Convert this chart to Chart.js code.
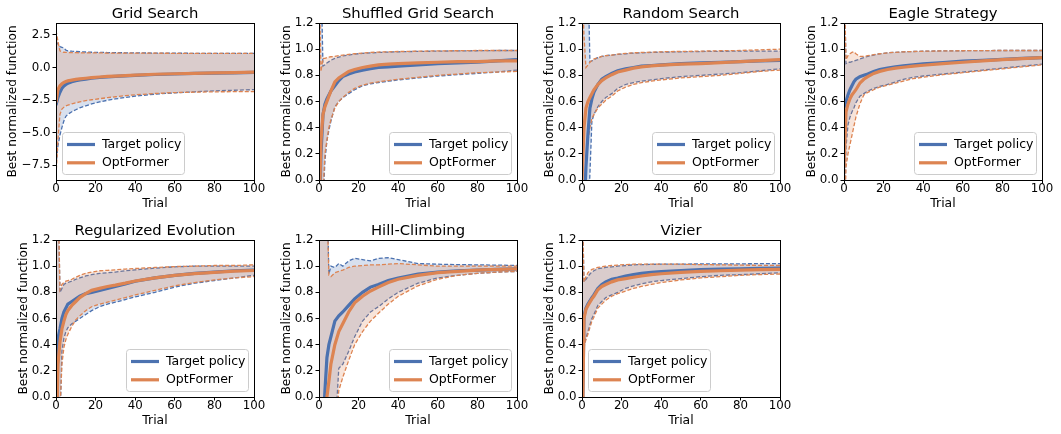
<!DOCTYPE html>
<html>
<head>
<meta charset="utf-8">
<script src="https://cdn.jsdelivr.net/npm/chart.js@4.4.1/dist/chart.umd.min.js"></script>
<style>
  body { margin: 0; background: #fff; width: 1061px; height: 434px; position: relative; overflow: hidden; }
  canvas { position: absolute; }
</style>
</head>
<body>
<script>
// Trial indices shared by every panel
const trials = [0, 1, 2, 3, 4, 5, 6, 8, 10, 12, 15, 18, 22, 26, 30, 35, 40, 50, 60, 70, 80, 90, 100];
const xTicks = [0, 20, 40, 60, 80, 100];
const unitTicks = [0, 0.2, 0.4, 0.6, 0.8, 1.0, 1.2];
const gridTicks = [2.5, 0, -2.5, -5, -7.5];
const seriesNames = ["Target policy", "OptFormer"];

// Grid Search
const gsTargetMean  = [-2.9, -2.3, -1.9, -1.6, -1.42, -1.3, -1.22, -1.1, -1.02, -0.96, -0.9, -0.83, -0.77, -0.72, -0.68, -0.64, -0.6, -0.54, -0.5, -0.46, -0.43, -0.41, -0.38];
const gsTargetUpper = [2.0, 1.8, 1.6, 1.55, 1.5, 1.33, 1.28, 1.25, 1.23, 1.21, 1.19, 1.17, 1.16, 1.15, 1.14, 1.13, 1.12, 1.11, 1.1, 1.09, 1.09, 1.08, 1.08];
const gsTargetLower = [-7.5, -6.0, -5.2, -4.6, -4.1, -3.75, -3.6, -3.4, -3.25, -3.1, -2.95, -2.8, -2.65, -2.52, -2.42, -2.3, -2.2, -2.05, -1.95, -1.87, -1.8, -1.75, -1.7];
const gsOptMean     = [-2.7, -1.7, -1.4, -1.25, -1.15, -1.08, -1.03, -0.97, -0.92, -0.88, -0.83, -0.78, -0.73, -0.69, -0.66, -0.62, -0.58, -0.52, -0.48, -0.45, -0.42, -0.39, -0.36];
const gsOptUpper    = [2.85, 2.0, 1.28, 1.2, 1.17, 1.16, 1.15, 1.14, 1.14, 1.13, 1.13, 1.12, 1.12, 1.11, 1.11, 1.1, 1.1, 1.1, 1.09, 1.09, 1.08, 1.08, 1.08];
const gsOptLower    = [-8.3, -5.5, -3.6, -3.2, -3.05, -2.95, -2.9, -2.8, -2.72, -2.65, -2.55, -2.48, -2.4, -2.32, -2.25, -2.17, -2.1, -2.0, -1.93, -1.9, -1.87, -1.86, -1.85];

// Shuffled Grid Search
const sgTargetMean  = [-0.5, 0.2, 0.5, 0.58, 0.62, 0.65, 0.68, 0.72, 0.76, 0.79, 0.81, 0.825, 0.84, 0.85, 0.86, 0.865, 0.87, 0.88, 0.89, 0.895, 0.9, 0.91, 0.92];
const sgTargetUpper = [1.6, 1.6, 0.87, 0.88, 0.895, 0.905, 0.915, 0.93, 0.94, 0.948, 0.955, 0.962, 0.968, 0.972, 0.975, 0.978, 0.98, 0.983, 0.985, 0.987, 0.988, 0.99, 0.99];
const sgTargetLower = [-0.8, -0.6, -0.2, 0.15, 0.3, 0.38, 0.45, 0.56, 0.6, 0.63, 0.66, 0.69, 0.72, 0.735, 0.745, 0.755, 0.765, 0.78, 0.795, 0.805, 0.815, 0.825, 0.84];
const sgOptMean     = [-0.3, 0.3, 0.5, 0.56, 0.6, 0.64, 0.68, 0.75, 0.78, 0.8, 0.83, 0.845, 0.86, 0.87, 0.88, 0.885, 0.89, 0.895, 0.9, 0.905, 0.905, 0.91, 0.91];
const sgOptUpper    = [1.6, 0.83, 0.93, 0.93, 0.935, 0.94, 0.942, 0.945, 0.95, 0.955, 0.96, 0.965, 0.97, 0.975, 0.978, 0.98, 0.982, 0.985, 0.987, 0.988, 0.99, 0.99, 0.99];
const sgOptLower    = [-0.8, -0.5, -0.1, 0.2, 0.3, 0.4, 0.46, 0.55, 0.6, 0.63, 0.67, 0.7, 0.725, 0.74, 0.75, 0.76, 0.77, 0.785, 0.8, 0.81, 0.82, 0.825, 0.83];

// Random Search
const rsTargetMean  = [-0.5, -0.3, 0.1, 0.35, 0.55, 0.62, 0.67, 0.73, 0.77, 0.79, 0.815, 0.835, 0.85, 0.86, 0.87, 0.875, 0.88, 0.89, 0.895, 0.9, 0.905, 0.91, 0.915];
const rsTargetUpper = [1.6, 1.6, 1.6, 1.6, 0.905, 0.91, 0.92, 0.935, 0.945, 0.95, 0.955, 0.96, 0.965, 0.97, 0.972, 0.975, 0.977, 0.98, 0.982, 0.984, 0.985, 0.985, 0.985];
const rsTargetLower = [-0.8, -0.8, -0.6, -0.3, 0.05, 0.45, 0.5, 0.56, 0.6, 0.63, 0.66, 0.7, 0.73, 0.745, 0.755, 0.765, 0.775, 0.79, 0.8, 0.81, 0.82, 0.835, 0.85];
const rsOptMean     = [0.0, 0.4, 0.55, 0.6, 0.63, 0.66, 0.69, 0.73, 0.76, 0.78, 0.805, 0.825, 0.84, 0.855, 0.865, 0.872, 0.878, 0.885, 0.89, 0.897, 0.905, 0.912, 0.92];
const rsOptUpper    = [1.6, 1.1, 0.86, 0.88, 0.9, 0.915, 0.925, 0.935, 0.945, 0.95, 0.955, 0.962, 0.968, 0.972, 0.975, 0.977, 0.98, 0.983, 0.985, 0.988, 0.99, 0.995, 1.0];
const rsOptLower    = [-0.8, -0.2, 0.15, 0.3, 0.4, 0.47, 0.5, 0.55, 0.58, 0.61, 0.64, 0.68, 0.71, 0.73, 0.745, 0.755, 0.765, 0.78, 0.79, 0.8, 0.815, 0.83, 0.84];

// Eagle Strategy
const esTargetMean  = [0.55, 0.6, 0.65, 0.69, 0.72, 0.75, 0.77, 0.79, 0.8, 0.81, 0.83, 0.845, 0.855, 0.865, 0.872, 0.88, 0.887, 0.898, 0.908, 0.915, 0.922, 0.93, 0.935];
const esTargetUpper = [1.6, 0.89, 0.9, 0.9, 0.905, 0.91, 0.915, 0.925, 0.935, 0.945, 0.955, 0.965, 0.972, 0.976, 0.98, 0.982, 0.984, 0.987, 0.988, 0.989, 0.99, 0.99, 0.99];
const esTargetLower = [-0.5, 0.25, 0.42, 0.48, 0.52, 0.55, 0.59, 0.64, 0.66, 0.68, 0.7, 0.715, 0.73, 0.75, 0.77, 0.785, 0.795, 0.81, 0.825, 0.84, 0.855, 0.87, 0.885];
const esOptMean     = [0.1, 0.52, 0.58, 0.62, 0.65, 0.67, 0.69, 0.74, 0.77, 0.79, 0.815, 0.83, 0.845, 0.855, 0.862, 0.87, 0.877, 0.89, 0.9, 0.91, 0.92, 0.928, 0.935];
const esOptUpper    = [1.6, 0.92, 0.95, 0.965, 0.975, 0.98, 0.965, 0.945, 0.945, 0.95, 0.958, 0.965, 0.972, 0.976, 0.98, 0.982, 0.984, 0.987, 0.988, 0.989, 0.99, 0.99, 0.99];
const esOptLower    = [-0.5, 0.1, 0.2, 0.27, 0.34, 0.41, 0.48, 0.58, 0.65, 0.67, 0.69, 0.71, 0.725, 0.74, 0.755, 0.775, 0.785, 0.805, 0.82, 0.835, 0.85, 0.865, 0.88];

// Regularized Evolution
const reTargetMean  = [-0.5, 0.45, 0.52, 0.6, 0.65, 0.68, 0.71, 0.73, 0.75, 0.77, 0.79, 0.8, 0.815, 0.83, 0.845, 0.865, 0.885, 0.91, 0.93, 0.945, 0.955, 0.965, 0.97];
const reTargetUpper = [1.6, 1.6, 0.8, 0.83, 0.86, 0.87, 0.875, 0.885, 0.9, 0.91, 0.925, 0.935, 0.945, 0.95, 0.955, 0.965, 0.972, 0.985, 0.995, 1.0, 1.0, 1.0, 1.0];
const reTargetLower = [-0.8, -0.8, -0.2, 0.35, 0.45, 0.5, 0.53, 0.56, 0.58, 0.6, 0.63, 0.66, 0.69, 0.71, 0.725, 0.745, 0.765, 0.8, 0.84, 0.87, 0.89, 0.91, 0.93];
const reOptMean     = [-0.5, 0.25, 0.42, 0.52, 0.58, 0.63, 0.66, 0.7, 0.73, 0.76, 0.79, 0.815, 0.83, 0.845, 0.855, 0.87, 0.887, 0.91, 0.93, 0.943, 0.953, 0.962, 0.967];
const reOptUpper    = [1.6, 1.6, 0.82, 0.86, 0.875, 0.885, 0.89, 0.9, 0.915, 0.93, 0.945, 0.955, 0.965, 0.968, 0.972, 0.978, 0.982, 0.99, 0.997, 1.0, 1.005, 1.005, 1.01];
const reOptLower    = [-0.8, -0.8, -0.1, 0.25, 0.38, 0.44, 0.48, 0.54, 0.59, 0.62, 0.66, 0.69, 0.71, 0.725, 0.74, 0.76, 0.78, 0.815, 0.85, 0.875, 0.895, 0.91, 0.92];

// Hill-Climbing
const hcTargetMean  = [-0.8, -0.6, -0.3, 0.05, 0.3, 0.4, 0.46, 0.58, 0.62, 0.65, 0.7, 0.75, 0.8, 0.84, 0.86, 0.89, 0.91, 0.94, 0.955, 0.965, 0.97, 0.975, 0.98];
const hcTargetUpper = [1.6, 1.6, 1.6, 1.6, 1.6, 0.94, 1.0, 0.99, 1.02, 1.0, 1.04, 1.06, 1.05, 1.04, 1.06, 1.065, 1.05, 1.02, 1.015, 1.012, 1.01, 1.008, 1.005];
const hcTargetLower = [-0.8, -0.8, -0.8, -0.8, -0.8, -0.8, -0.8, -0.3, 0.22, 0.25, 0.35, 0.46, 0.58, 0.65, 0.69, 0.75, 0.8, 0.87, 0.91, 0.93, 0.945, 0.955, 0.96];
const hcOptMean     = [-0.8, -0.8, -0.6, -0.3, 0.0, 0.12, 0.25, 0.4, 0.5, 0.56, 0.65, 0.72, 0.77, 0.81, 0.84, 0.875, 0.9, 0.93, 0.95, 0.96, 0.97, 0.975, 0.98];
const hcOptUpper    = [1.6, 1.6, 1.6, 1.6, 1.5, 0.93, 0.92, 0.95, 0.96, 0.97, 0.99, 1.0, 1.005, 1.01, 1.01, 1.015, 1.02, 1.01, 1.0, 1.0, 1.0, 1.0, 1.0];
const hcOptLower    = [-0.8, -0.8, -0.8, -0.8, -0.8, -0.8, -0.8, -0.4, 0.05, 0.15, 0.28, 0.4, 0.5, 0.58, 0.64, 0.71, 0.77, 0.85, 0.9, 0.93, 0.945, 0.955, 0.96];

// Vizier
const vzTargetMean  = [-0.5, 0.62, 0.68, 0.71, 0.735, 0.76, 0.78, 0.83, 0.86, 0.88, 0.9, 0.91, 0.925, 0.935, 0.945, 0.952, 0.958, 0.967, 0.973, 0.977, 0.98, 0.983, 0.985];
const vzTargetUpper = [1.6, 0.88, 0.9, 0.92, 0.94, 0.955, 0.965, 0.98, 0.985, 0.99, 0.995, 1.0, 1.005, 1.01, 1.012, 1.014, 1.015, 1.016, 1.017, 1.018, 1.018, 1.019, 1.02];
const vzTargetLower = [-0.5, 0.4, 0.45, 0.5, 0.55, 0.6, 0.63, 0.7, 0.73, 0.76, 0.78, 0.8, 0.83, 0.85, 0.865, 0.88, 0.89, 0.905, 0.92, 0.93, 0.935, 0.942, 0.95];
const vzOptMean     = [-0.5, 0.6, 0.67, 0.7, 0.725, 0.75, 0.77, 0.82, 0.845, 0.86, 0.88, 0.895, 0.905, 0.915, 0.925, 0.935, 0.942, 0.952, 0.96, 0.965, 0.97, 0.973, 0.975];
const vzOptUpper    = [1.6, 0.88, 0.92, 0.95, 0.965, 0.975, 0.98, 0.99, 0.995, 1.0, 1.005, 1.008, 1.012, 1.015, 1.015, 1.015, 1.015, 1.015, 1.012, 1.01, 1.008, 1.006, 1.005];
const vzOptLower    = [-0.5, 0.38, 0.44, 0.48, 0.53, 0.58, 0.61, 0.68, 0.71, 0.74, 0.77, 0.79, 0.81, 0.83, 0.845, 0.86, 0.875, 0.895, 0.91, 0.92, 0.93, 0.936, 0.94];

const BLUE = "#4c72b0";
const ORANGE = "#dd8452";
const BLUE_FILL = "rgba(76,114,176,0.22)";
const ORANGE_FILL = "rgba(221,132,82,0.22)";
const FONT = "DejaVu Sans";

Chart.defaults.font.family = FONT;
Chart.defaults.color = "#000";

// plot area placement in the page
const colLefts = [56, 319, 582, 844];
const rowTops = [23, 240];
const plotW = 198, plotH = 157;
const padL = 56, padT = 24, padB = 32, padR = 16;

const panels = [
  { title: "Grid Search", row: 0, col: 0, yMin: -8.65, yMax: 3.42, yTicks: gridTicks, labelPad: 5.5, legendSide: "left",
    series: [[gsTargetMean, gsTargetUpper, gsTargetLower], [gsOptMean, gsOptUpper, gsOptLower]] },
  { title: "Shuffled Grid Search", row: 0, col: 1, yMin: 0, yMax: 1.2, yTicks: unitTicks, labelPad: 16.5, legendSide: "right",
    series: [[sgTargetMean, sgTargetUpper, sgTargetLower], [sgOptMean, sgOptUpper, sgOptLower]] },
  { title: "Random Search", row: 0, col: 2, yMin: 0, yMax: 1.2, yTicks: unitTicks, labelPad: 16.5, legendSide: "right",
    series: [[rsTargetMean, rsTargetUpper, rsTargetLower], [rsOptMean, rsOptUpper, rsOptLower]] },
  { title: "Eagle Strategy", row: 0, col: 3, yMin: 0, yMax: 1.2, yTicks: unitTicks, labelPad: 16.5, legendSide: "right",
    series: [[esTargetMean, esTargetUpper, esTargetLower], [esOptMean, esOptUpper, esOptLower]] },
  { title: "Regularized Evolution", row: 1, col: 0, yMin: 0, yMax: 1.2, yTicks: unitTicks, labelPad: 16.5, legendSide: "right",
    series: [[reTargetMean, reTargetUpper, reTargetLower], [reOptMean, reOptUpper, reOptLower]] },
  { title: "Hill-Climbing", row: 1, col: 1, yMin: 0, yMax: 1.2, yTicks: unitTicks, labelPad: 16.5, legendSide: "right",
    series: [[hcTargetMean, hcTargetUpper, hcTargetLower], [hcOptMean, hcOptUpper, hcOptLower]] },
  { title: "Vizier", row: 1, col: 2, yMin: 0, yMax: 1.2, yTicks: unitTicks, labelPad: 16.5, legendSide: "left",
    series: [[vzTargetMean, vzTargetUpper, vzTargetLower], [vzOptMean, vzOptUpper, vzOptLower]] }
];

function points(values) {
  return trials.map((t, i) => ({ x: t, y: values[i] }));
}

function fmtTick(v) {
  return v.toFixed(1).replace("-", "\u2212");
}

// black box round the plot area
const framePlugin = {
  id: "frame",
  afterDatasetsDraw(chart) {
    const a = chart.chartArea, ctx = chart.ctx;
    ctx.save();
    ctx.strokeStyle = "#000";
    ctx.lineWidth = 1;
    ctx.strokeRect(a.left + 0.5, a.top + 0.5, a.right - a.left, a.bottom - a.top);
    ctx.restore();
  }
};

// matplotlib-like legend box inside the plot area
const boxLegendPlugin = {
  id: "boxLegend",
  afterDraw(chart, args, opts) {
    const a = chart.chartArea, ctx = chart.ctx;
    const items = chart.data.datasets.filter(d => d.role === "mean");
    ctx.save();
    ctx.font = "12.5px " + FONT;
    const textW = Math.max(...items.map(d => ctx.measureText(d.label).width));
    const w = Math.round(40 + textW + 3), h = 42;
    const x = opts.side === "left" ? a.left + 6 : a.right - 6 - w;
    const y = a.bottom - 6 - h;
    ctx.beginPath();
    if (ctx.roundRect) ctx.roundRect(x + 0.5, y + 0.5, w, h, 3);
    else ctx.rect(x + 0.5, y + 0.5, w, h);
    ctx.fillStyle = "rgba(255,255,255,0.8)";
    ctx.fill();
    ctx.strokeStyle = "#cccccc";
    ctx.lineWidth = 1;
    ctx.stroke();
    items.forEach((d, i) => {
      const cy = y + 12.5 + i * 18.3;
      ctx.beginPath();
      ctx.moveTo(x + 5, cy);
      ctx.lineTo(x + 33, cy);
      ctx.strokeStyle = d.borderColor;
      ctx.lineWidth = 3.2;
      ctx.stroke();
      ctx.fillStyle = "#000";
      ctx.textBaseline = "middle";
      ctx.textAlign = "left";
      ctx.fillText(d.label, x + 40, cy);
    });
    ctx.restore();
  }
};

function bandLine(values, color, fill, order) {
  return {
    data: points(values), borderColor: color, backgroundColor: color === BLUE ? BLUE_FILL : ORANGE_FILL,
    borderWidth: 1.3, borderDash: [4, 2], pointRadius: 0, tension: 0, fill: fill, order: order, clip: 0
  };
}

function meanLine(values, color, label, order) {
  return {
    label: label, role: "mean", data: points(values), borderColor: color, backgroundColor: color,
    borderWidth: 3.2, pointRadius: 0, tension: 0, fill: false, order: order, clip: 0
  };
}

function makePanel(p) {
  const canvas = document.createElement("canvas");
  const W = padL + plotW + padR, H = padT + plotH + padB;
  canvas.width = W;
  canvas.height = H;
  canvas.style.left = (colLefts[p.col] - padL) + "px";
  canvas.style.top = (rowTops[p.row] - padT) + "px";
  canvas.style.width = W + "px";
  canvas.style.height = H + "px";
  document.body.appendChild(canvas);

  const [tgt, opt] = p.series;
  const tickFont = { family: FONT, size: 11.8 };
  const tickGrid = { drawOnChartArea: false, tickLength: 3.5, color: "#000", tickWidth: 1 };

  new Chart(canvas, {
    type: "line",
    data: {
      datasets: [
        bandLine(tgt[1], BLUE, "+1", 5),
        bandLine(tgt[2], BLUE, false, 6),
        bandLine(opt[1], ORANGE, "+1", 3),
        bandLine(opt[2], ORANGE, false, 4),
        meanLine(tgt[0], BLUE, seriesNames[0], 1),
        meanLine(opt[0], ORANGE, seriesNames[1], 0)
      ]
    },
    options: {
      responsive: false,
      animation: false,
      devicePixelRatio: 1,
      layout: { padding: { left: 0, top: 0, right: padR, bottom: 0 } },
      plugins: {
        legend: { display: false },
        tooltip: { enabled: false },
        title: {
          display: true, text: p.title, fullSize: false, color: "#000",
          font: { family: FONT, size: 14.8, weight: "normal", lineHeight: "17px" },
          padding: { top: 7, bottom: 0 }
        },
        boxLegend: { side: p.legendSide }
      },
      scales: {
        x: {
          type: "linear", min: 0, max: 100,
          afterBuildTicks: s => { s.ticks = xTicks.map(v => ({ value: v })); },
          afterFit: s => { s.height = padB; },
          ticks: { font: { ...tickFont, lineHeight: 1 }, color: "#000", padding: 0, maxRotation: 0, autoSkip: false,
                   callback: v => String(v) },
          grid: tickGrid,
          border: { display: false },
          title: { display: true, text: "Trial", color: "#000", font: { family: FONT, size: 12.4 },
                   padding: { top: 0, bottom: 1 } }
        },
        y: {
          min: p.yMin, max: p.yMax,
          afterBuildTicks: s => { s.ticks = p.yTicks.map(v => ({ value: v })); },
          afterFit: s => { s.width = padL; },
          ticks: { font: tickFont, color: "#000", padding: 2, autoSkip: false, callback: v => fmtTick(v) },
          grid: tickGrid,
          border: { display: false },
          title: { display: true, text: "Best normalized function", color: "#000",
                   font: { family: FONT, size: 12.2 }, padding: { top: p.labelPad, bottom: 0 } }
        }
      }
    },
    plugins: [framePlugin, boxLegendPlugin]
  });
}

panels.forEach(makePanel);
</script>
</body>
</html>
